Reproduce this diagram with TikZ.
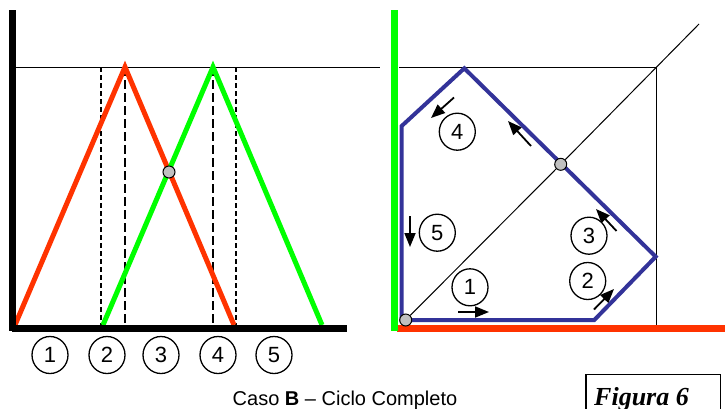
\documentclass[tikz,border=0pt]{standalone}
\usepackage{fontspec}
\setmainfont{Liberation Sans}
\newfontfamily\figfont{Liberation Serif}
\usetikzlibrary{arrows.meta,shapes.geometric}
\definecolor{cred}{HTML}{FF3300}
\definecolor{cgreen}{HTML}{00FF00}
\definecolor{cblue}{HTML}{333399}
\definecolor{cgrey}{HTML}{C0C0C0}
\tikzset{
  num/.style={draw,ellipse,line width=1.3pt,minimum width=36pt,minimum height=37pt,inner sep=0pt,font=\fontsize{22}{26}\selectfont},
  dot/.style={circle,draw,fill=cgrey,line width=1pt,minimum size=12pt,inner sep=0pt},
  thinln/.style={line width=1pt},
  dashthin/.style={line width=1.1pt,dash pattern=on 5pt off 3pt},
  dashthick/.style={line width=2pt,dash pattern=on 9pt off 4pt},
  arr/.style={line width=1.8pt,-{Triangle[length=14pt,width=11pt]}},
}
\begin{document}
\begin{tikzpicture}[x=1pt,y=-1pt]
\useasboundingbox (0,0) rectangle (725,408);
% ---------- left chart ----------
\draw[thinln] (16,67) -- (380,67);
\draw[dashthin] (101,67) -- (101,326);
\draw[dashthin] (236,67) -- (236,326);
\draw[dashthick] (125,67) -- (125,326);
\draw[dashthick] (213,67) -- (213,326);
\draw[line width=5pt,cred] (15,325) -- (125,67) -- (234,325);
\draw[line width=5pt,cgreen] (103,325) -- (213,67) -- (322,325);
\draw[line width=7pt] (12.5,10) -- (12.5,331);
\draw[line width=7pt] (12,328.5) -- (347,328.5);
\node[dot] (x1) at (169,172) {};
\node[num] (l1) at (50,355) {1};
\node[num] (l2) at (107,355) {2};
\node[num] (l3) at (161,355) {3};
\node[num] (l4) at (218,355) {4};
\node[num] (l5) at (274,355) {5};
% ---------- right chart ----------
\draw[thinln] (399,67) -- (656,67) -- (656,330);
\coordinate (d2) at (699,24);
\draw[line width=7pt,cred] (397,328) -- (725,328);
\draw[line width=7pt,cgreen] (394.5,10) -- (394.5,331);
\draw[line width=4pt,cblue,line join=miter]
  (401.7,320) -- (594.3,320) -- (655.7,256.7) -- (464.3,68.3) -- (401.7,126) -- cycle;
\node[dot] (o) at (405.7,320) {};
\node[dot] (x2) at (560.7,164.3) {};
\draw[thinln] (o) -- (x2) -- (d2);
% arrows
\coordinate (a1s) at (458,312); \coordinate (a1e) at (489,312);
\coordinate (a2s) at (594,309.5); \coordinate (a2e) at (614,289);
\coordinate (a3s) at (616.5,231); \coordinate (a3e) at (596,209);
\coordinate (a6s) at (531,146); \coordinate (a6e) at (508,121);
\coordinate (a4s) at (454,97.5); \coordinate (a4e) at (431,118);
\coordinate (a5s) at (410,216); \coordinate (a5e) at (410,247);
\draw[arr] (a1s) -- (a1e);
\draw[arr] (a2s) -- (a2e);
\draw[arr] (a3s) -- (a3e);
\draw[arr] (a6s) -- (a6e);
\draw[arr] (a4s) -- (a4e);
\draw[arr] (a5s) -- (a5e);
\node[num] (r4) at (457.3,131.7) {4};
\node[num] (r5) at (437.3,232.7) {5};
\node[num] (r3) at (589,235.7) {3};
\node[num] (r2) at (587.7,281) {2};
\node[num] (r1) at (470,287.3) {1};
% ---------- captions ----------
\node[anchor=base,font=\fontsize{20}{24}\selectfont,inner sep=0pt] (cap) at (345,405) {Caso \textbf{B} -- Ciclo Completo};
\draw[line width=1.2pt] (586,410) -- (586,374.5) -- (720.5,374.5) -- (720.5,410);
\node[anchor=base west,inner sep=0pt,font=\figfont\bfseries\itshape\fontsize{26}{30}\selectfont] (fig) at (594,405) {Figura 6};
\end{tikzpicture}
\end{document}
